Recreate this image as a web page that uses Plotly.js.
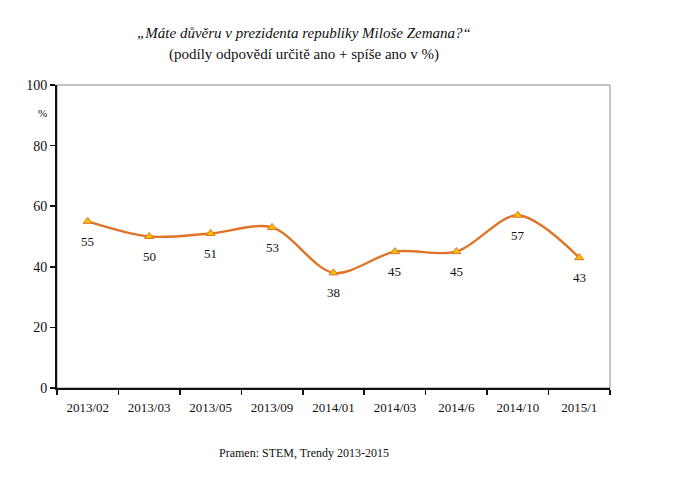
<!DOCTYPE html>
<html>
<head>
<meta charset="utf-8">
<script src="https://cdn.plot.ly/plotly-3.0.1.min.js"></script>
<style>html,body{margin:0;padding:0;background:#fff;}#chart{width:682px;height:495px;}</style>
</head>
<body>
<div id="chart"></div>
<script>
var categories = ["2013/02","2013/03","2013/05","2013/09","2014/01","2014/03","2014/6","2014/10","2015/1"];
var values = [55, 50, 51, 53, 38, 45, 45, 57, 43];
var yTicks = [0, 20, 40, 60, 80, 100];

var serif = "Liberation Serif, Times New Roman, serif";

var trace = {
  x: categories,
  y: values,
  type: "scatter",
  mode: "lines+markers",
  line: {color: "#DF7428", width: 2.4, shape: "spline", smoothing: 0.9},
  marker: {symbol: "triangle-up", size: 8, color: "#F6C200", line: {color: "#DF7428", width: 1}},
  cliponaxis: false,
  hoverinfo: "none"
};

var labelAnns = categories.map(function (c, i) {
  return {x: c, y: values[i], xref: "x", yref: "y", text: String(values[i]),
    showarrow: false, yshift: -20, xanchor: "center", yanchor: "middle",
    font: {family: serif, size: 13, color: "#111"}};
});

var layout = {
  width: 682, height: 495,
  margin: {l: 57, r: 72, t: 85, b: 107},
  paper_bgcolor: "#fff", plot_bgcolor: "#fff",
  showlegend: false,
  font: {family: serif, size: 13, color: "#111"},
  xaxis: {
    type: "category",
    showline: true, linecolor: "#111", linewidth: 1.5,
    ticks: "outside", tickson: "boundaries", ticklen: 5, tickcolor: "#111", tickwidth: 1.5,
    ticklabelstandoff: 7,
    showgrid: false, zeroline: false,
    tickfont: {family: serif, size: 13, color: "#111"},
    range: [-0.5, categories.length - 0.5]
  },
  yaxis: {
    range: [0, 100],
    tickvals: yTicks,
    showline: true, linecolor: "#111", linewidth: 2,
    ticks: "outside", ticklen: 5, tickcolor: "#111", tickwidth: 1.5,
    showgrid: false, zeroline: false,
    tickfont: {family: serif, size: 14, color: "#111"}
  },
  shapes: [{
    type: "rect", xref: "paper", yref: "paper", x0: 0, x1: 1, y0: 0, y1: 1,
    line: {color: "#888", width: 1}, layer: "below"
  }],
  annotations: [
    {text: "<i>„Máte důvěru v prezidenta republiky Miloše Zemana?“</i>", xref: "paper", yref: "paper",
     x: (304-57)/553, y: 1 + (85-33)/303, xanchor: "center", yanchor: "middle", showarrow: false,
     font: {family: serif, size: 15, color: "#111"}},
    {text: "(podíly odpovědí určitě ano + spíše ano v %)", xref: "paper", yref: "paper",
     x: (304-57)/553, y: 1 + (85-55)/303, xanchor: "center", yanchor: "middle", showarrow: false,
     font: {family: serif, size: 15, color: "#111"}},
    {text: "%", xref: "paper", yref: "paper", x: (42-57)/553, y: 1 - (113-85)/303,
     xanchor: "center", yanchor: "middle", showarrow: false,
     font: {family: serif, size: 11, color: "#111"}},
    {text: "Pramen: STEM, Trendy 2013-2015", xref: "paper", yref: "paper",
     x: (304-57)/553, y: -(453-388)/303, xanchor: "center", yanchor: "middle", showarrow: false,
     font: {family: serif, size: 12, color: "#111"}}
  ].concat(labelAnns)
};

Plotly.newPlot("chart", [trace], layout, {staticPlot: true, displayModeBar: false});
</script>
</body>
</html>
